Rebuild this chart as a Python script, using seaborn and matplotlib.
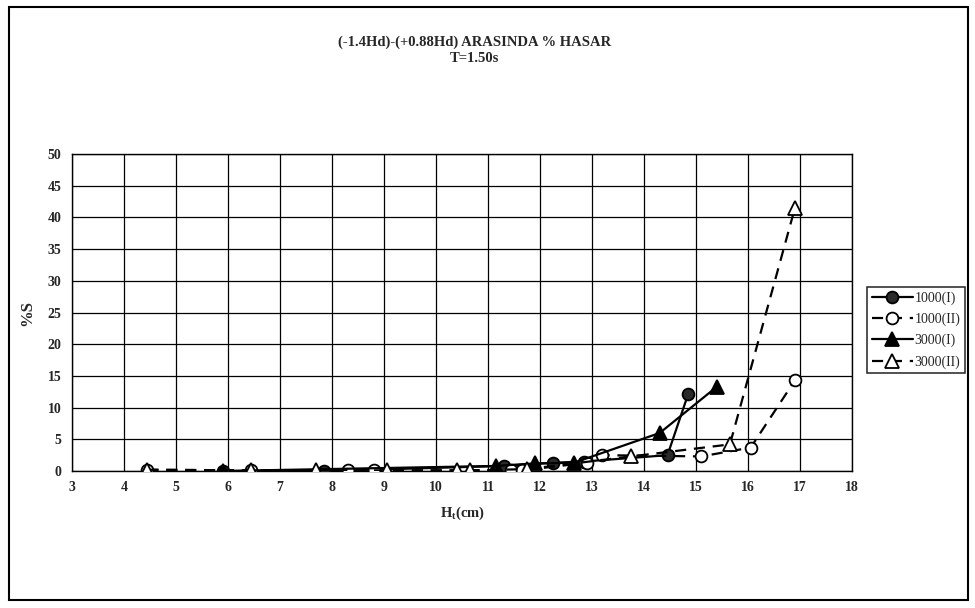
import matplotlib
matplotlib.use("Agg")
import matplotlib.pyplot as plt
import seaborn as sns
import pandas as pd
from matplotlib.patches import Rectangle

# ---- data ----
title_lines = ["(-1.4Hd)-(+0.88Hd) ARASINDA % HASAR", "T=1.50s"]
x_label = "H$_\\mathregular{t}$(cm)"
y_label = "%S"

x_1000_I = [5.9, 7.85, 11.3, 12.25, 12.85, 14.45, 14.85]
y_1000_I = [0.0, 0.0, 0.8, 1.3, 1.5, 2.5, 12.2]

x_1000_II = [4.45, 6.45, 8.3, 8.8, 11.45, 11.65, 12.9, 13.2, 15.1, 16.05, 16.9]
y_1000_II = [0.2, 0.1, 0.1, 0.1, 0.1, 0.1, 1.3, 2.5, 2.3, 3.7, 14.3]

x_3000_I = [5.9, 11.15, 11.9, 12.65, 14.3, 15.4]
y_3000_I = [0.0, 0.8, 1.2, 1.3, 6.0, 13.3]

x_3000_II = [4.45, 6.45, 7.7, 9.05, 10.4, 10.65, 11.75, 13.75, 15.65, 16.9]
y_3000_II = [0.2, 0.1, 0.1, 0.1, 0.1, 0.1, 0.3, 2.3, 4.2, 41.5]

series_names = ["1000(I)", "1000(II)", "3000(I)", "3000(II)"]

sns.set_theme(style="white")
plt.rcParams["font.family"] = ["Liberation Serif", "DejaVu Serif"]
plt.rcParams["mathtext.fontset"] = "custom"
plt.rcParams["mathtext.rm"] = "Liberation Serif:bold"
plt.rcParams["mathtext.it"] = "Liberation Serif:bold"

fig = plt.figure(figsize=(9.75, 6.08), dpi=100)
ax = fig.add_axes([0.0738, 0.2253, 0.8002, 0.5214])

dash = (0, (5, 3.5))
styles = [
    (x_1000_I, y_1000_I, "o", "#2a2a2a", "-"),
    (x_1000_II, y_1000_II, "o", "white", dash),
    (x_3000_I, y_3000_I, "^", "black", "-"),
    (x_3000_II, y_3000_II, "^", "white", dash),
]
for name, (xs, ys, mk, fc, ls) in zip(series_names, styles):
    df = pd.DataFrame({"x": xs, "y": ys})
    sns.lineplot(data=df, x="x", y="y", ax=ax, sort=False, color="black",
                 linewidth=1.6, linestyle=ls, marker=mk, markersize=10 if mk == "^" else 8.5,
                 markerfacecolor=fc, markeredgecolor="black", markeredgewidth=1.3,
                 label=name, zorder=3)

ax.set_xlim(3, 18)
ax.set_ylim(0, 50)
ax.set_xticks(range(3, 19))
ax.set_yticks(range(0, 51, 5))
ax.grid(True, color="black", linewidth=0.9, linestyle="-")
for s in ax.spines.values():
    s.set_color("black")
    s.set_linewidth(1.0)
ax.tick_params(axis="both", which="both", length=4, width=1, color="black",
               labelsize=10, direction="out")
for lab in ax.get_xticklabels() + ax.get_yticklabels():
    lab.set_fontweight("bold")
ax.set_xlabel(x_label, fontsize=10.5, fontweight="bold", labelpad=7)
ax.set_ylabel(y_label, fontsize=12, fontweight="bold", labelpad=9)

fig.text(0.487, 0.931, title_lines[0], ha="center", va="center", fontsize=10.5, fontweight="bold")
fig.text(0.487, 0.904, title_lines[1], ha="center", va="center", fontsize=10.5, fontweight="bold")

leg = ax.legend(loc="center left", bbox_to_anchor=(0.889, 0.457), bbox_transform=fig.transFigure,
                frameon=True, fancybox=False, fontsize=10, handlelength=3.0,
                borderpad=0.35, labelspacing=0.55, handletextpad=0.1, borderaxespad=0)
leg.get_frame().set_edgecolor("black")
leg.get_frame().set_linewidth(1.2)

fig.patches.append(Rectangle((0.009, 0.013), 0.984, 0.975, transform=fig.transFigure,
                             fill=False, edgecolor="black", linewidth=1.5))

fig.savefig("out.png", dpi=100)
